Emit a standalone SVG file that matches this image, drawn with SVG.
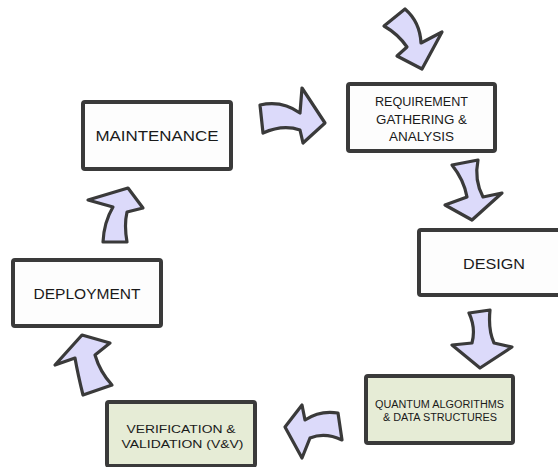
<svg xmlns="http://www.w3.org/2000/svg" width="558" height="467" viewBox="0 0 558 467">
<style>
.box{stroke:#3a3a3a;stroke-width:4;stroke-linejoin:round}
.w{fill:#fdfdfd}
.g{fill:#e6ecd6}
.arr{fill:#dcdafa;stroke:#3a3a3a;stroke-width:3.2;stroke-linejoin:round}
text{font-family:"Liberation Sans","DejaVu Sans",sans-serif;fill:#1a1a1a;text-anchor:middle}
</style>
<rect width="558" height="467" fill="#ffffff"/>
<g id="connectors">
<path class="arr" d="M384,26 L405,9 Q420,22 421,43 L442,32 L422,69 L397,56 L407,47 Q398,34 384,26 Z"/>
<path class="arr" d="M260,105 Q282,100 300,113 L302,88 L325,123 L303,143 L300,130 Q283,124 263,133 Z"/>
<path class="arr" d="M452,165 L478,160 Q474,180 483,197 L502,193 L472,220 L445,205 L467,197 Q464,180 452,165 Z"/>
<path class="arr" d="M469,313 L490,310 Q488,330 494,343 L512,347 L480,368 L452,345 L472,343 Q476,328 469,313 Z"/>
<path class="arr" d="M285,427 L302,405 L305,420 Q320,410 338,413 L342,440 Q325,432 310,438 L302,458 Z"/>
<path class="arr" d="M82,335 L110,343 L95,355 Q100,372 112,385 L83,395 Q78,375 75,358 L55,365 Z"/>
<path class="arr" d="M88,200 L128,188 L143,208 L127,212 Q124,225 127,242 L103,242 Q104,222 113,207 Z"/>
</g>
<g id="requirement">
<rect class="box w" x="348" y="84" width="147" height="67" rx="2"/>
<text x="421.5" y="106" font-size="12" textLength="93" lengthAdjust="spacingAndGlyphs">REQUIREMENT</text>
<text x="421.5" y="123.5" font-size="12" textLength="91" lengthAdjust="spacingAndGlyphs">GATHERING &amp;</text>
<text x="421.5" y="141" font-size="12" textLength="65" lengthAdjust="spacingAndGlyphs">ANALYSIS</text>
</g>
<g id="maintenance">
<rect class="box w" x="83" y="102" width="148" height="67" rx="2"/>
<text x="157" y="140.5" font-size="15" textLength="123" lengthAdjust="spacingAndGlyphs">MAINTENANCE</text>
</g>
<g id="design">
<rect class="box w" x="419" y="230" width="150" height="65" rx="2"/>
<text x="494" y="268.5" font-size="15" textLength="62" lengthAdjust="spacingAndGlyphs">DESIGN</text>
</g>
<g id="deployment">
<rect class="box w" x="13" y="260" width="148" height="66" rx="2"/>
<text x="87" y="298.5" font-size="15" textLength="107" lengthAdjust="spacingAndGlyphs">DEPLOYMENT</text>
</g>
<g id="quantum">
<rect class="box g" x="366" y="376" width="147" height="67" rx="2"/>
<text x="439.5" y="407.5" font-size="10" textLength="129" lengthAdjust="spacingAndGlyphs">QUANTUM ALGORITHMS</text>
<text x="440" y="421.3" font-size="10" textLength="114" lengthAdjust="spacingAndGlyphs">&amp; DATA STRUCTURES</text>
</g>
<g id="verification">
<rect class="box g" x="107" y="402" width="148" height="64" rx="2"/>
<text x="181" y="432.5" font-size="11.5" textLength="109" lengthAdjust="spacingAndGlyphs">VERIFICATION &amp;</text>
<text x="182.5" y="448.3" font-size="11.5" textLength="122" lengthAdjust="spacingAndGlyphs">VALIDATION (V&amp;V)</text>
</g>
</svg>
